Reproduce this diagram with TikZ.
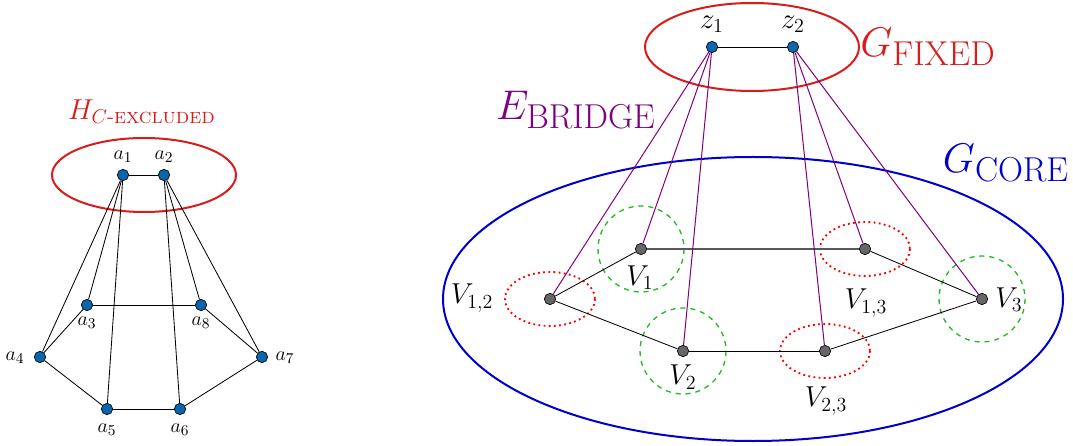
\documentclass[tikz,border=0pt]{standalone}
\usepackage{tikz}
\usetikzlibrary{positioning}
\usepackage{amsmath}
\usepackage{xcolor}
\definecolor{gcRed}{HTML}{D81B1B}
\definecolor{gcBlue}{HTML}{0000CC}
\definecolor{gcPurple}{HTML}{800080}
\definecolor{gcGreen}{HTML}{22BB22}
\definecolor{gcNode}{HTML}{0A66AE}
\definecolor{gcGray}{HTML}{666666}
\tikzset{
  vtx/.style={circle, draw=black, fill=gcNode, inner sep=0pt, minimum size=6.8pt, line width=0.4pt},
  vtxG/.style={vtx, fill=gcGray},
  edg/.style={draw=black, line width=0.5pt},
  brg/.style={draw=gcPurple, line width=0.6pt},
  lblA/.style={inner sep=0pt, font=\fontsize{12.5}{14}\selectfont},
  lblV/.style={inner sep=0pt, font=\fontsize{16.5}{19}\selectfont},
  ttl/.style={inner sep=0pt, font=\Huge},
  grpR/.style={draw=gcRed, line width=1.2pt},
  grpB/.style={draw=gcBlue, line width=1.2pt},
  partG/.style={draw=gcGreen, line width=0.8pt, dashed},
  partR/.style={draw=red, line width=1.1pt, dotted},
}

\begin{document}
\begin{tikzpicture}[x=0.6pt, y=-0.6pt]
  \useasboundingbox (0,0) rectangle (1073,446);
  % left graph
  \draw[grpR] (144,175) ellipse [x radius=92, y radius=37];
  \node[lblA, text=gcRed, font=\fontsize{18.5}{22}\selectfont] (hexc) at (142,112) {$H_{C\text{-}\textsc{excluded}}$};
  \foreach \n/\x/\y in {1/123/175,2/164/175,3/87/305,4/40/357,5/107/409,6/180/409,7/262/357,8/201/305}
    \node[vtx] (a\n) at (\x,\y) {};
  \foreach \n/\x/\y in {1/123/157,2/164/157,3/87/323,4/15/358,5/107/430,6/180/430,7/285/358,8/201/323}
    \node[lblA] (la\n) at (\x,\y) {$a_{\n}$};
  \foreach \u/\v in {a1/a2,a1/a3,a1/a4,a1/a5,a2/a6,a2/a7,a2/a8,a3/a8,a3/a4,a4/a5,a5/a6,a6/a7,a7/a8}
    \draw[edg] (\u) -- (\v);
  % right graph
  \draw[grpR] (752,47) ellipse [x radius=107, y radius=44];
  \draw[grpB] (753,299) ellipse [x radius=310, y radius=142];
  \node[ttl, text=gcRed] (gfix) at (928,47) {$G_{\mathrm{FIXED}}$};
  \node[ttl, text=gcPurple] (ebr) at (576,110) {$E_{\mathrm{BRIDGE}}$};
  \node[ttl, text=gcBlue] (gcore) at (1006,163) {$G_{\mathrm{CORE}}$};
  \node[vtx] (z1) at (712,47) {};
  \node[vtx] (z2) at (793,47) {};
  \node[lblV] (lz1) at (712,24) {$z_1$};
  \node[lblV] (lz2) at (793,24) {$z_2$};
  \foreach \n/\x/\y in {V1/641/249,V13/865/249,V12/550/299,V3/982/299,V2/683/351,V23/825/351}
    \node[vtxG] (\n) at (\x,\y) {};
  \foreach \n in {V1,V2,V3}
    \draw[partG] (\n) circle [radius=43];
  \foreach \n in {V12,V13,V23}
    \draw[partR] (\n) ellipse [x radius=45, y radius=27];
  \node[lblV] (lV1) at (640,278) {$V_1$};
  \node[lblV] (lV2) at (683,377) {$V_2$};
  \node[lblV] (lV3) at (1009,300) {$V_3$};
  \node[lblV] (lV12) at (472,298) {$V_{1,2}$};
  \node[lblV] (lV13) at (866,303) {$V_{1,3}$};
  \node[lblV] (lV23) at (826,401) {$V_{2,3}$};
  \draw[edg] (z1) -- (z2);
  \foreach \u/\v in {V12/V1,V12/V2,V2/V23,V23/V3,V3/V13} \draw[edg] (\u) -- (\v);
  \draw[draw=black!65, line width=0.9pt] (V1) -- (V13);
  \foreach \u/\v in {z1/V12,z1/V1,z1/V2,z2/V23,z2/V13,z2/V3} \draw[brg] (\u) -- (\v);
\end{tikzpicture}
\end{document}
